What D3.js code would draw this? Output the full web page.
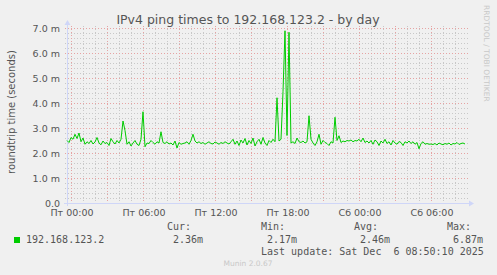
<!DOCTYPE html>
<html>
<head>
<meta charset="utf-8">
<script src="https://cdn.jsdelivr.net/npm/d3@7"></script>
<style>
body{margin:0;background:#f0f0f0}
text{font-family:"DejaVu Sans",sans-serif}
.mono{font-family:"DejaVu Sans Mono",monospace}
</style>
</head>
<body>
<div id="chart"></div>
<script>
// ping values in ms, one every 10 minutes from Thu 23:40
var pingValues = [
2.50,2.42,2.62,2.55,2.75,2.58,2.80,2.45,2.60,2.35,
2.45,2.38,2.50,2.36,2.44,2.62,2.40,2.33,2.48,2.38,
2.42,2.30,2.58,2.45,2.36,2.50,2.40,2.55,3.28,2.90,
2.35,2.45,2.28,2.40,2.50,2.35,2.30,2.55,3.65,2.25,
2.40,2.38,2.50,2.42,2.35,2.45,2.40,2.85,2.42,2.38,
2.45,2.36,2.40,2.32,2.48,2.20,2.42,2.35,2.38,2.40,
2.45,2.35,2.50,2.75,2.48,2.40,2.45,2.38,2.42,2.35,
2.40,2.45,2.38,2.36,2.44,2.40,2.35,2.42,2.38,2.45,
2.40,2.36,2.45,2.55,2.35,2.48,2.30,2.52,2.40,2.58,
2.32,2.50,2.38,2.60,2.28,2.45,2.55,2.35,2.62,2.40,
2.30,2.50,2.42,2.55,2.45,4.21,2.48,2.55,4.45,6.89,
2.70,6.83,2.40,2.45,2.38,2.60,2.45,2.42,2.48,2.40,
2.45,3.49,2.55,2.40,2.30,2.45,2.75,2.35,2.50,2.42,
2.38,2.30,2.45,2.40,3.43,2.50,2.69,2.42,2.48,2.45,
2.50,2.48,2.52,2.45,2.50,2.48,2.55,2.45,2.60,2.42,
2.48,2.40,2.50,2.35,2.52,2.45,2.30,2.48,2.40,2.55,
2.38,2.45,2.32,2.50,2.40,2.35,2.46,2.42,2.30,2.45,
2.40,2.48,2.38,2.45,2.35,2.42,2.17,2.38,2.45,2.35,
2.38,2.35,2.36,2.34,2.38,2.32,2.40,2.36,2.33,2.38,
2.35,2.40,2.32,2.38,2.36,2.42,2.34,2.38,2.40,2.36
]
var startTime = new Date(2025,11,4,23,40)
var endTime = new Date(2025,11,6,9,0)
var stepMinutes = 10
var yTicks = [0,1,2,3,4,5,6,7]
var weekDays = ['Вс','Пн','Вт','Ср','Чт','Пт','Сб']
var legendHeads = ['Cur:','Min:','Avg:','Max:']
var legendValues = ['2.36m','2.17m','2.46m','6.87m']
var seriesName = '192.168.123.2'

var svg = d3.select('#chart').append('svg')
.attr('width',497)
.attr('height',275)
svg.append('rect').attr('width',497).attr('height',275).attr('fill','#f0f0f0')

var plotL = 67, plotR = 467, plotT = 28, plotB = 203
var x = d3.scaleTime().domain([startTime,endTime]).range([plotL,plotR])
var y = d3.scaleLinear().domain([0,7]).range([plotB,plotT])

var grid = svg.append('g').attr('shape-rendering','crispEdges')
// minor grid
grid.selectAll('.hmin').data(d3.range(0,7.01,0.2)).enter().append('line')
.attr('x1',plotL-2).attr('x2',plotR+2)
.attr('y1',function(d){return Math.round(y(d))+0.5})
.attr('y2',function(d){return Math.round(y(d))+0.5})
.attr('stroke','#c8c8c8').attr('stroke-dasharray','1,2')
grid.selectAll('.vmin').data(d3.timeHour.every(1).range(startTime,endTime)).enter().append('line')
.attr('y1',plotT-2).attr('y2',plotB+2)
.attr('x1',function(d){return Math.round(x(d))+0.5})
.attr('x2',function(d){return Math.round(x(d))+0.5})
.attr('stroke','#c8c8c8').attr('stroke-dasharray','1,2')
// major grid
grid.selectAll('.hmaj').data(yTicks).enter().append('line')
.attr('x1',plotL-2).attr('x2',plotR+2)
.attr('y1',function(d){return Math.round(y(d))+0.5})
.attr('y2',function(d){return Math.round(y(d))+0.5})
.attr('stroke','#e6a3a3').attr('stroke-dasharray','1,2')
grid.selectAll('.vmaj').data(d3.timeHour.every(3).range(startTime,endTime)).enter().append('line')
.attr('y1',plotT-2).attr('y2',plotB+2)
.attr('x1',function(d){return Math.round(x(d))+0.5})
.attr('x2',function(d){return Math.round(x(d))+0.5})
.attr('stroke','#e6a3a3').attr('stroke-dasharray','1,2')

// axes
var axisColor = '#cfd6f8'
svg.append('line').attr('x1',plotL+0.5).attr('x2',plotL+0.5).attr('y1',plotB+3).attr('y2',plotT-4)
.attr('stroke',axisColor)
svg.append('path').attr('d','M'+(plotL-2.5)+','+(plotT-3)+'L'+(plotL+3.5)+','+(plotT-3)+'L'+(plotL+0.5)+','+(plotT-8)+'Z').attr('fill',axisColor)
svg.append('line').attr('x1',plotL-3).attr('x2',plotR+3).attr('y1',plotB+0.5).attr('y2',plotB+0.5)
.attr('stroke',axisColor)
svg.append('path').attr('d','M'+(plotR+2)+','+(plotB-2.5)+'L'+(plotR+2)+','+(plotB+3.5)+'L'+(plotR+7)+','+(plotB+0.5)+'Z').attr('fill',axisColor)

// y labels
svg.selectAll('.ylab').data(yTicks).enter().append('text')
.attr('x',60).attr('y',function(d){return y(d)+3.5})
.attr('text-anchor','end').attr('fill','#555').style('font-size','9.5px')
.text(function(d){return d==0 ? '0.0' : d.toFixed(1)+' m'})

// x labels
var fmt = d3.timeFormat('%H:%M')
svg.selectAll('.xlab').data(d3.timeHour.every(6).range(startTime,endTime)).enter().append('text')
.attr('x',function(d){return x(d)+1}).attr('y',216)
.attr('text-anchor','middle').attr('fill','#555').style('font-size','9.5px')
.text(function(d){return weekDays[d.getDay()]+' '+fmt(d)})

// series
var line = d3.line()
.x(function(d,i){return x(d3.timeMinute.offset(startTime,i*stepMinutes))})
.y(function(d){return y(d)})
svg.append('path').datum(pingValues).attr('d',line)
.attr('fill','none').attr('stroke','#00cc00').attr('stroke-width',1)

// titles
svg.append('text').attr('x',248).attr('y',24).attr('text-anchor','middle')
.attr('fill','#555').style('font-size','12.5px')
.text('IPv4 ping times to 192.168.123.2 - by day')
svg.append('text').attr('transform','translate(15,112) rotate(-90)').attr('text-anchor','middle')
.attr('fill','#555').style('font-size','10px')
.text('roundtrip time (seconds)')
svg.append('text').attr('transform','translate(484,5) rotate(90)')
.attr('fill','#c8c8c8').style('font-size','7.5px')
.text('RRDTOOL / TOBI OETIKER')

// legend
svg.append('rect').attr('x',14).attr('y',237).attr('width',6).attr('height',6).attr('fill','#00cc00')
svg.append('text').attr('class','mono').attr('x',26).attr('y',243).attr('fill','#555').style('font-size','10px').text(seriesName)
var colX = [167,261,354,447]
svg.selectAll('.lh').data(legendHeads).enter().append('text').attr('class','mono')
.attr('x',function(d,i){return colX[i]}).attr('y',230)
.attr('fill','#555').style('font-size','10px').text(function(d){return d})
svg.selectAll('.lv').data(legendValues).enter().append('text').attr('class','mono')
.attr('x',function(d,i){return colX[i]+6}).attr('y',243)
.attr('fill','#555').style('font-size','10px').text(function(d){return d})
svg.append('text').attr('class','mono').attr('x',261).attr('y',255)
.attr('fill','#555').style('font-size','10px').style('white-space','pre')
.text('Last update: Sat Dec  6 08:50:10 2025')
svg.append('text').attr('x',248).attr('y',266).attr('text-anchor','middle')
.attr('fill','#c8c8c8').style('font-size','7.5px')
.text('Munin 2.0.67')
</script>
</body>
</html>
